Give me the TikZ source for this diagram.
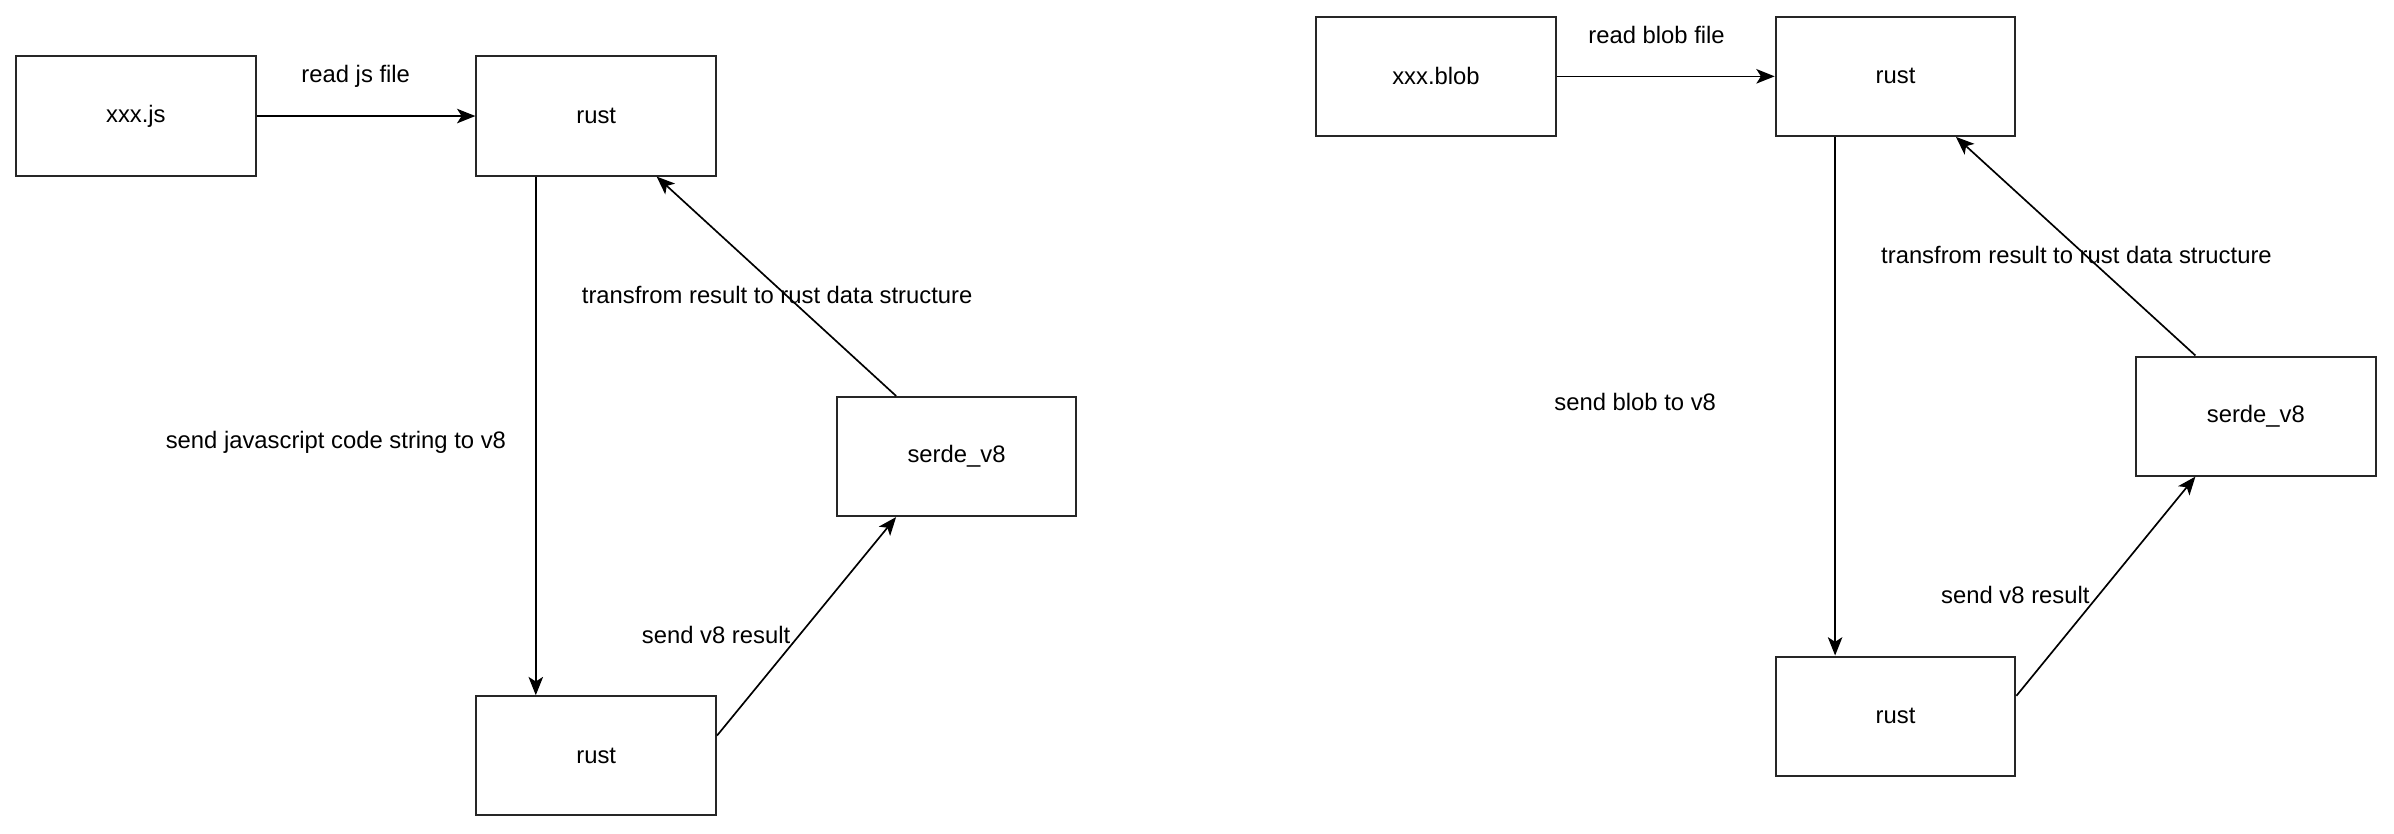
\documentclass[tikz,border=0pt]{standalone}
\usepackage{fontspec}
\setmainfont{Liberation Sans}
\usetikzlibrary{arrows.meta,calc}
\begin{document}
\begin{tikzpicture}[x=1pt,y=-1pt,
  box/.style={draw=black!85, line width=1.3pt, fill=white, minimum width=157pt, minimum height=78pt, inner sep=0pt, font=\fontsize{15.6}{18}\selectfont},
  conn/.style={line width=1.1pt, -{Stealth[length=12pt,width=9.5pt,inset=3pt]}},
  lbl/.style={font=\fontsize{15.6}{18}\selectfont, inner sep=0pt}]
\useasboundingbox (0,0) rectangle (1568,546);
% left diagram
\node[box] (js)    at (89,76)    {xxx.js};
\node[box] (rustA) at (390.5,76) {rust};
\node[box] (serdeA) at (626.5,299) {serde\_v8};
\node[box] (rustB) at (390.5,495) {rust};
\draw[conn] (js.east) -- (rustA.west);
\draw[conn] ($(rustA.south west)!0.25!(rustA.south east)$) -- ($(rustB.north west)!0.25!(rustB.north east)$);
\draw[conn] ($(rustB.north east)!0.333!(rustB.south east)$) -- ($(serdeA.south west)!0.25!(serdeA.south east)$);
\draw[conn] ($(serdeA.north west)!0.25!(serdeA.north east)$) -- ($(rustA.south west)!0.75!(rustA.south east)$);
\node[lbl] (l1) at (233,50) {read js file};
\node[lbl] (l2) at (220,290) {send javascript code string to v8};
\node[lbl] (l3) at (469,416) {send v8 result};
\node[lbl] (l4) at (509,193) {transfrom result to rust data structure};
% right diagram
\node[box] (blob)  at (940.5,50)   {xxx.blob};
\node[box] (rustC) at (1241.5,50)  {rust};
\node[box] (serdeB) at (1477.5,272.5) {serde\_v8};
\node[box] (rustD) at (1241.5,469) {rust};
\draw[conn] (blob.east) -- (rustC.west);
\draw[conn] ($(rustC.south west)!0.25!(rustC.south east)$) -- ($(rustD.north west)!0.25!(rustD.north east)$);
\draw[conn] ($(rustD.north east)!0.333!(rustD.south east)$) -- ($(serdeB.south west)!0.25!(serdeB.south east)$);
\draw[conn] ($(serdeB.north west)!0.25!(serdeB.north east)$) -- ($(rustC.south west)!0.75!(rustC.south east)$);
\node[lbl] (r1) at (1085,23) {read blob file};
\node[lbl] (r2) at (1071,263) {send blob to v8};
\node[lbl] (r3) at (1320,390) {send v8 result};
\node[lbl] (r4) at (1360,167) {transfrom result to rust data structure};
\end{tikzpicture}
\end{document}
